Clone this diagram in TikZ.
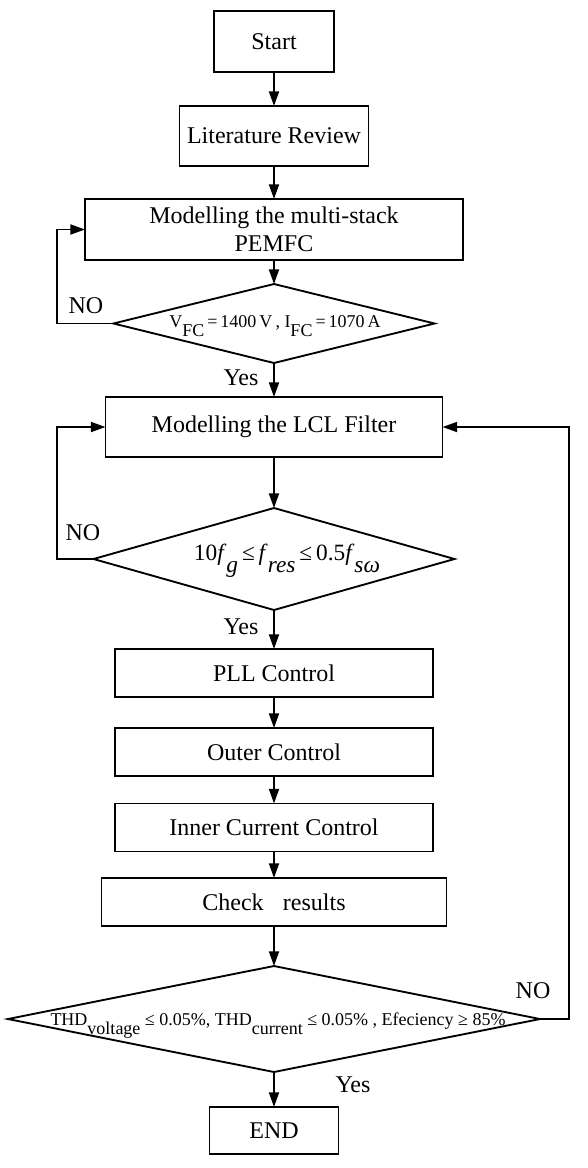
\documentclass[tikz,border=0pt]{standalone}
\usepackage{fontspec}
\setmainfont{Liberation Serif}
\usetikzlibrary{arrows.meta,shapes.geometric}
\newcommand{\dn}[1]{\raisebox{-0.5em}{#1}}
\begin{document}
\begin{tikzpicture}[x=0.75pt,y=-0.75pt,
  box/.style={draw, line width=1.4pt, rectangle, inner sep=0pt, outer sep=0pt, align=center, font=\fontsize{18pt}{21pt}\selectfont},
  dia/.style={draw, line width=1.4pt, diamond, inner sep=0pt, outer sep=0pt},
  dtext/.style={inner sep=0pt, anchor=base},
  lbl/.style={font=\fontsize{18pt}{21pt}\selectfont, inner sep=0pt},
  arr/.style={line width=1.4pt, -{Triangle[length=11pt,width=7.5pt]}},
]
\useasboundingbox (0,0) rectangle (587,1168);

\node[box, minimum width=90pt, minimum height=45.75pt] (start) at (274,41.5) {Start};
\node[box, minimum width=141.75pt, minimum height=45pt] (lit) at (274,136) {Literature Review};
\node[box, minimum width=283.5pt, minimum height=45.75pt] (model) at (274,229.5) {Modelling the multi-stack\\PEMFC};
\node[dia, minimum width=240.75pt, minimum height=59.25pt] (d1) at (274,323.5) {};
\node[dtext, font=\fontsize{13.5pt}{15pt}\selectfont] (t1) at (275,327) {V\dn{FC}\,=\,1400\,V\,, I\dn{FC}\,=\,1070\,A};
\node[box, minimum width=252.75pt, minimum height=45pt] (lcl) at (274,427) {Modelling the LCL Filter};
\node[dia, minimum width=270.75pt, minimum height=76.5pt] (d2) at (274,559) {};
\node[dtext, font=\fontsize{17.5pt}{19pt}\selectfont] (t2) at (287,560.7) {10\textit{f}\dn{\textit{g}}\,≤\,\textit{f}\dn{\textit{res}}\,≤\,0.5\textit{f}\dn{\textit{sω}}};
\node[box, minimum width=238.5pt, minimum height=36pt] (pll) at (274,673) {PLL Control};
\node[box, minimum width=238.5pt, minimum height=36pt] (outer) at (274,752) {Outer Control};
\node[box, minimum width=238.5pt, minimum height=36pt] (inner) at (274,827.5) {Inner Current Control};
\node[box, minimum width=258.75pt, minimum height=36pt] (check) at (274,902) {Check\hspace{0.8em}results};
\node[dia, minimum width=399pt, minimum height=79.5pt] (d3) at (274,1019) {};
\node[dtext, font=\fontsize{13.5pt}{15pt}\selectfont] (t3) at (278,1025.7) {THD\dn{voltage} ≤ 0.05\%, THD\dn{current} ≤ 0.05\% , Efeciency ≥ 85\%};
\node[box, minimum width=96.75pt, minimum height=35.25pt] (end) at (274,1130.5) {END};

\coordinate (c1) at (57,229.5);
\coordinate (c2) at (57,427);
\coordinate (c3) at (569,427);

\draw[arr] (start) -- (lit);
\draw[arr] (lit) -- (model);
\draw[arr] (model) -- (d1.north);
\draw[arr] (d1.south) -- (lcl);
\draw[arr] (d1.west) -| (c1) -- (model.west);
\draw[arr] (lcl) -- (d2.north);
\draw[arr] (d2.west) -| (c2) -- (lcl.west);
\draw[arr] (d2.south) -- (pll);
\draw[arr] (pll) -- (outer);
\draw[arr] (outer) -- (inner);
\draw[arr] (inner) -- (check);
\draw[arr] (check) -- (d3.north);
\draw[arr] (d3.south) -- (end);
\draw[arr] (d3.east) -| (c3) -- (lcl.east);

\node[lbl] (no1) at (86,306) {NO};
\node[lbl] (yes1) at (241,378) {Yes};
\node[lbl] (no2) at (83,533) {NO};
\node[lbl] (yes2) at (241,627) {Yes};
\node[lbl] (no3) at (533,991) {NO};
\node[lbl] (yes3) at (353,1085) {Yes};
\end{tikzpicture}
\end{document}
